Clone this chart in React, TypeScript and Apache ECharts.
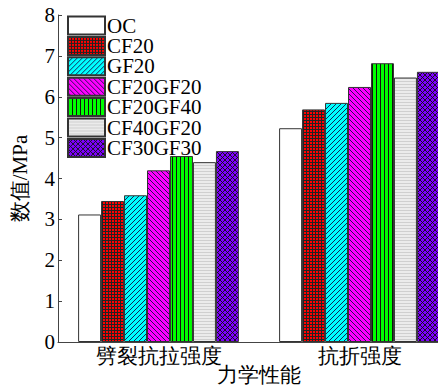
import React, { useEffect, useRef } from "react";
import * as echarts from "echarts";

const categories = ["劈裂抗拉强度", "抗折强度"];
const seriesNames = ["OC", "CF20", "GF20", "CF20GF20", "CF20GF40", "CF40GF20", "CF30GF30"];
const ocValues = [3.12, 5.23];
const cf20Values = [3.45, 5.69];
const gf20Values = [3.59, 5.85];
const cf20gf20Values = [4.2, 6.24];
const cf20gf40Values = [4.55, 6.82];
const cf40gf20Values = [4.4, 6.47];
const cf30gf30Values = [4.67, 6.61];
const yTicks = [0, 1, 2, 3, 4, 5, 6, 7, 8];

const FONT = "Liberation Serif";
const AXFONT = "serif";

function svgTile(w: number, h: number, body: string) {
  const svg = `<svg xmlns="http://www.w3.org/2000/svg" width="${w}" height="${h}" viewBox="0 0 ${w} ${h}" shape-rendering="crispEdges">${body}</svg>`;
  return {
    image: "data:image/svg+xml;charset=utf-8," + encodeURIComponent(svg),
    repeat: "repeat",
    imageWidth: w,
    imageHeight: h,
  } as any;
}

const patterns = [
  "#ffffff",
  svgTile(3, 3, `<rect width="3" height="3" fill="#ff0000"/><rect width="3" height="1" fill="#222"/><rect width="1" height="3" fill="#222"/>`),
  svgTile(5, 5, `<rect width="5" height="5" fill="#00ffff"/><path d="M-1 6 L6 -1" stroke="#114" stroke-width="0.9" shape-rendering="auto"/><path d="M-1 1 L1 -1 M4 6 L6 4" stroke="#114" stroke-width="0.9" shape-rendering="auto"/>`),
  svgTile(5, 5, `<rect width="5" height="5" fill="#ff00ff"/><path d="M-1 -1 L6 6" stroke="#114" stroke-width="0.9" shape-rendering="auto"/><path d="M4 -1 L6 1 M-1 4 L1 6" stroke="#114" stroke-width="0.9" shape-rendering="auto"/>`),
  svgTile(4, 1, `<rect width="4" height="1" fill="#00ff00"/><rect width="1" height="1" fill="#111"/>`),
  svgTile(1, 3, `<rect width="1" height="3" fill="#ebebeb"/><rect width="1" height="1" fill="#cfcfcf"/>`),
  svgTile(5, 5, `<rect width="5" height="5" fill="#7f00ff"/><path d="M-1 -1 L6 6 M-1 6 L6 -1 M4 -1 L6 1 M-1 4 L1 6 M-1 1 L1 -1 M4 6 L6 4" stroke="#111" stroke-width="0.9" shape-rendering="auto"/>`),
];

const allValues = [ocValues, cf20Values, gf20Values, cf20gf20Values, cf20gf40Values, cf40gf20Values, cf30gf30Values];

export default function App() {
  const ref = useRef<HTMLDivElement>(null);
  useEffect(() => {
    if (!ref.current) return;
    const chart = echarts.init(ref.current, null, { renderer: "svg" });
    chart.setOption({
      animation: false,
      textStyle: { fontFamily: FONT },
      legend: {
        orient: "vertical",
        left: 67,
        top: 15,
        itemWidth: 37,
        itemHeight: 18,
        itemGap: -0.6,
        icon: "rect",
        padding: 0,
        textStyle: { fontFamily: FONT, fontSize: 21, color: "#000", padding: [0, 0, 0, -3] },
        data: seriesNames,
      },
      grid: { left: 58, right: -22, top: 15, bottom: 43, containLabel: false, outerBoundsMode: "none" },
      xAxis: {
        type: "category",
        data: categories,
        name: "力学性能",
        nameLocation: "middle",
        nameGap: 22,
        nameMoveOverlap: false,
        nameTextStyle: { fontFamily: AXFONT, fontSize: 21, color: "#000" },
        axisLine: { lineStyle: { color: "#444", width: 1 } },
        axisTick: { show: false },
        axisLabel: { fontFamily: AXFONT, fontSize: 21, color: "#000", margin: 3 },
      },
      yAxis: {
        type: "value",
        min: yTicks[0],
        max: yTicks[yTicks.length - 1],
        interval: 1,
        name: "数值/MPa",
        nameLocation: "middle",
        nameGap: 28,
        nameMoveOverlap: false,
        nameTextStyle: { fontFamily: AXFONT, fontSize: 21, color: "#000" },
        axisLine: { show: true, lineStyle: { color: "#444", width: 1 } },
        axisTick: { show: true, inside: true, length: 4, lineStyle: { color: "#444" } },
        splitLine: { show: false },
        axisLabel: { fontFamily: AXFONT, fontSize: 21, color: "#000", margin: 3 },
      },
      series: seriesNames.map((name, i) => ({
        name,
        type: "bar",
        data: allValues[i],
        barGap: "0%",
        barCategoryGap: "20%",
        itemStyle: { color: patterns[i], borderColor: "#333", borderWidth: 1 },
      })),
    });
    return () => chart.dispose();
  }, []);
  return <div ref={ref} style={{ width: 438, height: 385, position: "absolute", left: 0, top: 0 }} />;
}
